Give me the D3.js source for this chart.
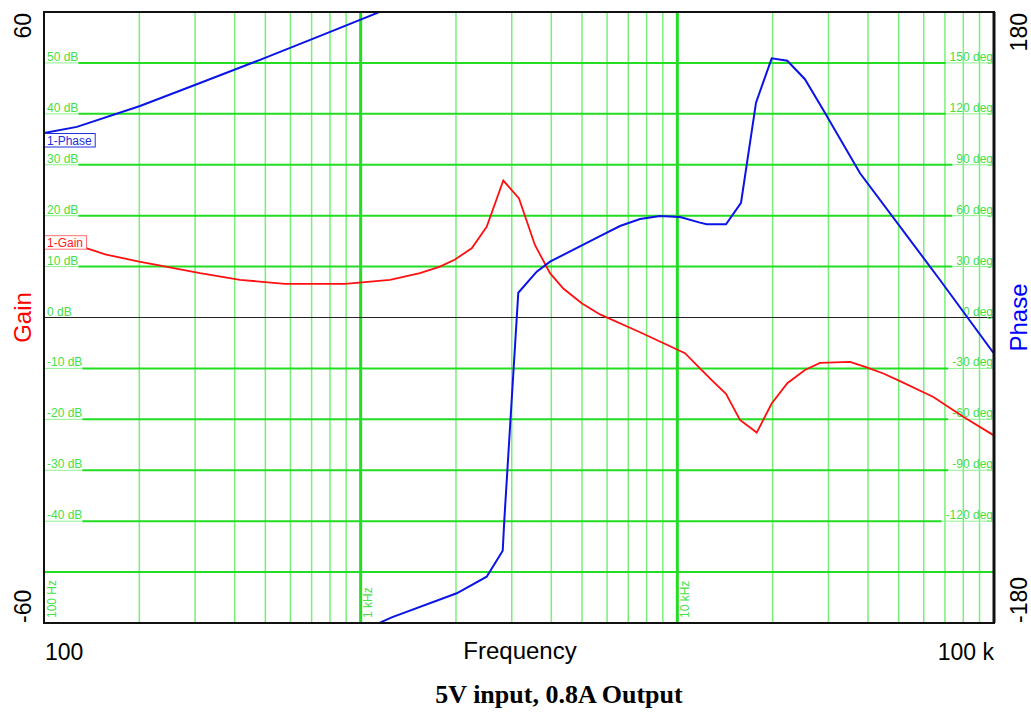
<!DOCTYPE html>
<html>
<head>
<meta charset="utf-8">
<script src="https://cdn.jsdelivr.net/npm/d3@7"></script>
<style>
  body { margin: 0; background: #fff; }
  text { font-family: "Liberation Sans", Arial, sans-serif; }
</style>
</head>
<body>
<div id="chart"></div>
<script>
// gain trace (Hz, dB)
const gainFreq = [100, 136, 156, 198, 311, 416, 577, 893, 1237, 1539, 1780, 1986, 2242, 2500, 2821,
  3162, 3553, 3962, 4364, 4989, 5699, 7625, 10573, 11790, 12840, 14245, 15770, 17810, 19860,
  22250, 25290, 28210, 35100, 39630, 44720, 50490, 64340, 79980, 99500];
const gainDb = [14.4, 13.6, 12.4, 11.0, 8.7, 7.4, 6.6, 6.6, 7.4, 8.7, 10.0, 11.4, 13.6, 17.8, 26.9,
  23.4, 14.2, 8.7, 5.7, 2.8, 0.6, -2.9, -7.0, -10.0, -12.3, -15.0, -20.1, -22.6, -16.9,
  -12.9, -10.3, -8.9, -8.7, -9.8, -11.0, -12.5, -15.6, -19.5, -23.1];

// phase trace (Hz, deg, unwrapped - goes past 180 and is shown wrapped)
const phaseFreq = [100, 127, 201, 311, 481, 745, 1130, 1165, 1253, 2011, 2500, 2809, 2842, 3146,
  3597, 3963, 5699, 6591, 7625, 8817, 10195, 11790, 12380, 14245, 15890, 17720, 19860, 22250,
  25290, 28900, 37760, 67530, 99500];
const phaseDeg = [108.7, 112.3, 124.6, 138.2, 151.8, 165.9, 179.5, 180.7, 183.3, 197.5, 207.3, 222.6,
  240.7, 374.6, 387, 392.9, 408, 413.9, 418, 419.8, 419.2, 415.9, 414.9, 414.9, 427.6, 486.6,
  512.7, 511.3, 500.4, 482.3, 445, 382.1, 339.3];

const gainTicks = [50, 40, 30, 20, 10, 0, -10, -20, -30, -40];
const phaseTicks = [150, 120, 90, 60, 30, 0, -30, -60, -90, -120];
const decadeFreqs = [100, 1000, 10000];
const decadeLabels = ['100 Hz', '1 kHz', '10 kHz'];

class BodePlot {

    constructor(_config) {
        this.config = {
            parentElement: _config.parentElement,
            width: 1031,
            height: 713,
            margin: { top: 12, right: 37, bottom: 90, left: 44 }
        }
        this.initVis();
    }

    initVis() {
        let vis = this;
        const m = vis.config.margin;
        vis.width = vis.config.width - m.left - m.right;
        vis.height = vis.config.height - m.top - m.bottom;

        vis.root = d3.select(vis.config.parentElement).append('svg')
            .attr('width', vis.config.width)
            .attr('height', vis.config.height);

        vis.svg = vis.root.append('g')
            .attr('transform', `translate(${m.left},${m.top})`);

        vis.x = d3.scaleLog().domain([100, 100000]).range([0, vis.width]);
        vis.yGain = d3.scaleLinear().domain([-60, 60]).range([vis.height, 0]);
        vis.yPhase = d3.scaleLinear().domain([-180, 180]).range([vis.height, 0]);

        vis.svg.append('clipPath').attr('id', 'plot-clip')
            .append('rect').attr('width', vis.width).attr('height', vis.height);

        vis.drawGrid();
        vis.updateVis();
        vis.drawLabels();
    }

    drawGrid() {
        let vis = this;
        const minor = [];
        decadeFreqs.forEach(d => { for (let k = 2; k <= 9; k++) minor.push(d * k); });

        vis.svg.selectAll('.v-minor')
            .data(minor)
            .join('line')
            .attr('class', 'v-minor')
            .attr('x1', d => vis.x(d)).attr('x2', d => vis.x(d))
            .attr('y1', 0).attr('y2', vis.height)
            .attr('stroke', '#78f078')
            .attr('stroke-width', 1.5);

        vis.svg.selectAll('.v-decade')
            .data(decadeFreqs.slice(1))
            .join('line')
            .attr('class', 'v-decade')
            .attr('x1', d => vis.x(d)).attr('x2', d => vis.x(d))
            .attr('y1', 0).attr('y2', vis.height)
            .attr('stroke', '#22dd22')
            .attr('stroke-width', 3);

        vis.svg.selectAll('.v-label')
            .data(decadeFreqs)
            .join('text')
            .attr('class', 'v-label')
            .attr('transform', d => `translate(${vis.x(d) + 11.5},${vis.height - 5}) rotate(-90)`)
            .attr('font-size', 12)
            .attr('fill', '#44e044')
            .text((d, i) => decadeLabels[i]);

        // horizontal lines: -50 .. 50 dB
        const hValues = d3.range(-50, 51, 10);
        hValues.forEach(db => {
            const y = vis.yGain(db);
            const li = gainTicks.indexOf(db);
            if (db === 0) {
                vis.svg.append('line')
                    .attr('x1', 0).attr('x2', vis.width).attr('y1', y).attr('y2', y)
                    .attr('stroke', '#222').attr('stroke-width', 1);
            }
            let x0 = 0, x1 = vis.width;
            if (li >= 0) {
                const lt = vis.svg.append('text')
                    .attr('x', 3).attr('y', y - 2)
                    .attr('font-size', 12).attr('fill', '#44e044')
                    .text(`${gainTicks[li]} dB`);
                x0 = 3 + lt.node().getComputedTextLength();
                const rt = vis.svg.append('text')
                    .attr('x', vis.width - 1).attr('y', y - 2)
                    .attr('text-anchor', 'end')
                    .attr('font-size', 12).attr('fill', '#44e044')
                    .text(`${phaseTicks[li]} deg`);
                x1 = vis.width - 1 - rt.node().getComputedTextLength() - 4;
                if (db !== 0) {
                    vis.svg.append('line')
                        .attr('x1', 0).attr('x2', x0).attr('y1', y).attr('y2', y)
                        .attr('stroke', '#8ff08f').attr('stroke-width', 1);
                    vis.svg.append('line')
                        .attr('x1', x1).attr('x2', vis.width).attr('y1', y).attr('y2', y)
                        .attr('stroke', '#8ff08f').attr('stroke-width', 1);
                }
            }
            if (db !== 0) {
                vis.svg.append('line')
                    .attr('x1', x0).attr('x2', x1).attr('y1', y).attr('y2', y)
                    .attr('stroke', '#22dd22').attr('stroke-width', 2);
            }
        });
    }

    updateVis() {
        let vis = this;

        const gainData = gainFreq.map((f, i) => ({ f: f, v: gainDb[i] }));
        const phaseData = phaseFreq.map((f, i) => ({ f: f, v: phaseDeg[i] }));

        const plot = vis.svg.append('g').attr('clip-path', 'url(#plot-clip)');

        const gainLine = d3.line().x(d => vis.x(d.f)).y(d => vis.yGain(d.v));
        const phaseLine = d3.line().x(d => vis.x(d.f)).y(d => vis.yPhase(d.v));

        plot.append('path')
            .datum(gainData)
            .attr('fill', 'none')
            .attr('stroke', '#ff1010')
            .attr('stroke-width', 1.8)
            .attr('d', gainLine);

        // phase drawn as-is and wrapped by -360
        [0, -360].forEach(shift => {
            plot.append('path')
                .datum(phaseData.map(d => ({ f: d.f, v: d.v + shift })))
                .attr('fill', 'none')
                .attr('stroke', '#0a14e6')
                .attr('stroke-width', 2)
                .attr('d', phaseLine);
        });

        // trace tags
        const tag = (label, y, color, border) => {
            const t = vis.svg.append('text')
                .attr('x', 3).attr('y', y + 11.5)
                .attr('font-size', 12).attr('fill', color)
                .text(label);
            const w = t.node().getComputedTextLength() + 6;
            vis.svg.insert('rect', 'text:last-child')
                .attr('x', 0.5).attr('y', y + 0.5)
                .attr('width', w).attr('height', 13.5)
                .attr('fill', '#fff').attr('stroke', border);
            t.raise();
        };
        tag('1-Phase', vis.yPhase(phaseDeg[0]), '#2030e0', '#2030e0');
        tag('1-Gain', vis.yGain(gainDb[0]) - 9, '#ff2020', '#ff7070');

        // frame
        vis.svg.append('rect')
            .attr('width', vis.width).attr('height', vis.height)
            .attr('fill', 'none').attr('stroke', '#111').attr('stroke-width', 2);
        vis.svg.append('line')
            .attr('x1', vis.width).attr('x2', vis.width).attr('y1', 0).attr('y2', vis.height)
            .attr('stroke', '#111').attr('stroke-width', 3);
    }

    drawLabels() {
        let vis = this;
        const m = vis.config.margin;
        const r = vis.root;
        const left = m.left, right = m.left + vis.width;
        const top = m.top, bottom = m.top + vis.height;

        const rot = (x, y, txt, color, anchor) => r.append('text')
            .attr('transform', `translate(${x},${y}) rotate(-90)`)
            .attr('text-anchor', anchor)
            .attr('font-size', 23)
            .attr('fill', color)
            .text(txt);

        rot(31, top + 1, '60', '#000', 'end');
        rot(31, bottom, '-60', '#000', 'start');
        rot(31, (top + bottom) / 2, 'Gain', '#ff0000', 'middle').attr('font-size', 24);
        rot(1027, top + 1, '180', '#000', 'end');
        rot(1027, bottom, '-180', '#000', 'start');
        rot(1027, (top + bottom) / 2, 'Phase', '#0000ff', 'middle').attr('font-size', 24);

        r.append('text').attr('x', left + 1).attr('y', 660)
            .attr('font-size', 23).text('100');
        r.append('text').attr('x', right).attr('y', 660)
            .attr('text-anchor', 'end').attr('font-size', 23).text('100 k');
        r.append('text').attr('x', 520).attr('y', 659)
            .attr('text-anchor', 'middle').attr('font-size', 24).text('Frequency');

        r.append('text').attr('x', 559).attr('y', 703)
            .attr('text-anchor', 'middle')
            .style('font-family', '"Liberation Serif", "Times New Roman", serif')
            .attr('font-weight', 'bold')
            .attr('font-size', 26)
            .text('5V input, 0.8A Output');
    }
}

new BodePlot({ parentElement: '#chart' });
</script>
</body>
</html>
